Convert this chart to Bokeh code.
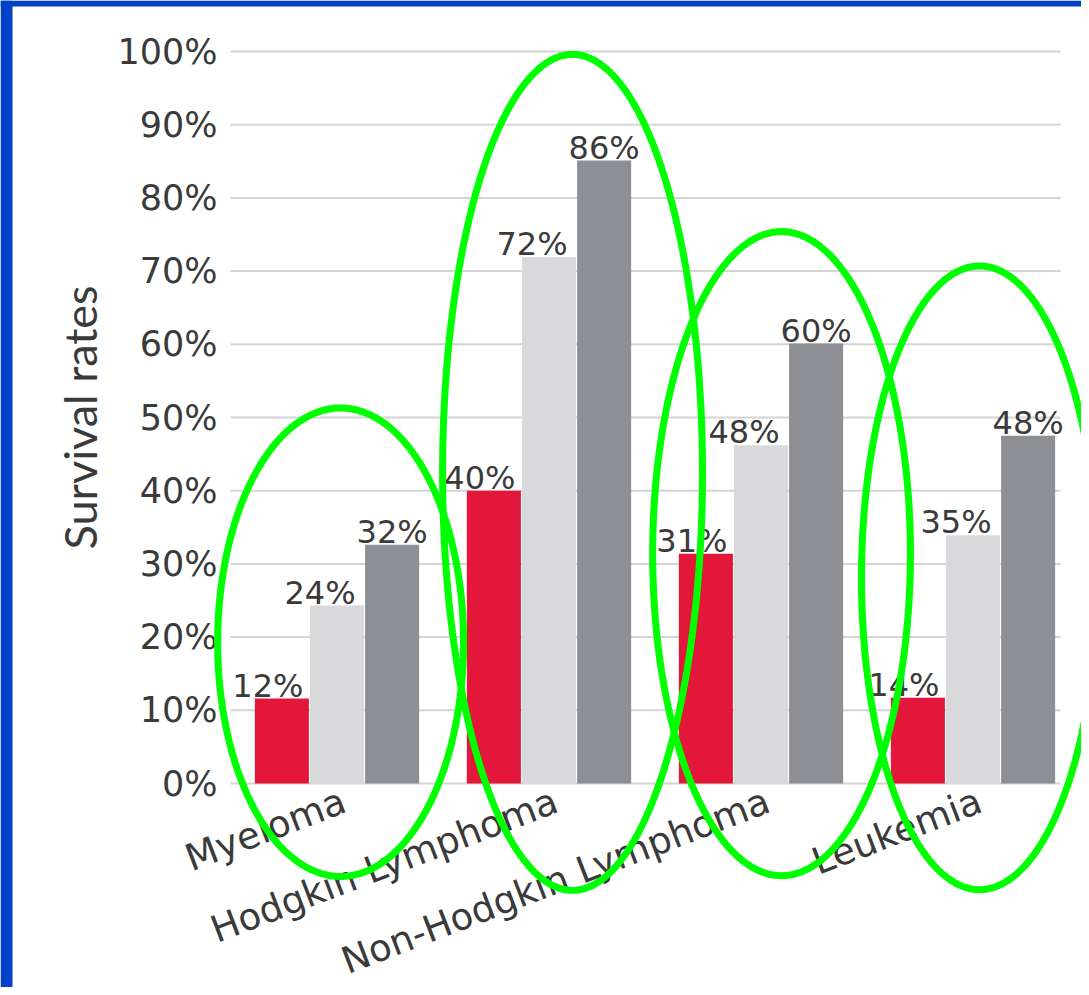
import numpy as np
from bokeh.plotting import figure
from bokeh.models import (Range1d, FixedTicker, PrintfTickFormatter, ColumnDataSource,
                          PolyAnnotation, BoxAnnotation)
from bokeh.transform import dodge
from bokeh.embed import file_html
from bokeh.resources import INLINE
from bokeh.core.properties import value

# ---------------- data ----------------
categories = ["Myeloma", "Hodgkin Lymphoma", "Non-Hodgkin Lymphoma", "Leukemia"]
red_values = [11.6, 40.0, 31.4, 11.7]
light_values = [24.3, 71.9, 46.2, 33.9]
dark_values = [32.6, 85.1, 60.1, 47.5]
red_labels = ["12%", "40%", "31%", "14%"]
light_labels = ["24%", "72%", "48%", "35%"]
dark_labels = ["32%", "86%", "60%", "48%"]
y_ticks = [0, 10, 20, 30, 40, 50, 60, 70, 80, 90, 100]

# highlight ellipses (centre x in category units, centre y in %, half sizes)
ellipse_cx = [0.017, 1.111, 2.097, 3.031]
ellipse_cy = [19.3, 42.5, 31.4, 28.1]
ellipse_ax = [0.580, 0.613, 0.608, 0.557]
ellipse_by = [32.0, 57.1, 44.0, 42.6]

FONT = "DejaVu Sans"
TEXT = "#3a3a3a"
RED = "#e2173a"
LIGHT = "#d9d9dc"
DARK = "#8e8f94"

W, H = 1081, 987
# canvas layout: category 0 centre at px 336.5, 212 px per category; 0% at px 783, 7.32 px per %
PX0, PXU = 336.5, 212.0
PY0, PYU = 783.0, 7.32


def px_x(px):
    return (px - PX0) / PXU


def px_y(py):
    return (PY0 - py) / PYU


AREA_X0, AREA_X1 = px_x(230), px_x(1060)

src = ColumnDataSource(dict(x=list(range(len(categories))),
                            r=red_values, l=light_values, d=dark_values,
                            rl=red_labels, ll=light_labels, dl=dark_labels))

p = figure(width=W, height=H,
           x_range=Range1d(px_x(0), px_x(W)), y_range=Range1d(px_y(H), px_y(0)),
           output_backend="svg", toolbar_location=None,
           min_border=0, min_border_left=0, min_border_right=0,
           min_border_top=0, min_border_bottom=0)
p.outline_line_color = None
p.background_fill_color = "white"
p.border_fill_color = "white"
p.xgrid.visible = False
p.ygrid.visible = False

# horizontal grid lines
p.segment(x0=[AREA_X0] * len(y_ticks), x1=[AREA_X1] * len(y_ticks),
          y0=y_ticks, y1=y_ticks, line_color="#d4d4d4", line_width=2)

BW = 0.255
OFF = 0.26
p.vbar(x=dodge("x", -OFF), top="r", width=BW, bottom=0, source=src,
       fill_color=RED, line_color=None)
p.vbar(x=dodge("x", 0), top="l", width=BW, bottom=0, source=src,
       fill_color=LIGHT, line_color=None)
p.vbar(x=dodge("x", OFF), top="d", width=BW, bottom=0, source=src,
       fill_color=DARK, line_color=None)

common = dict(source=src, text_align="center", text_baseline="alphabetic",
              text_font=value(FONT), text_font_size="32px", text_color=TEXT,
              y_offset=-13)
p.text(x=dodge("x", -OFF), y="r", text="rl", x_offset=-14, **common)
p.text(x=dodge("x", 0), y="l", text="ll", x_offset=-17, **common)
p.text(x=dodge("x", OFF), y="d", text="dl", x_offset=0, **common)

# y axis (drawn at the plot-area edge)
yax = p.yaxis[0]
yax.fixed_location = AREA_X0
yax.bounds = (0, 100)
yax.ticker = FixedTicker(ticks=y_ticks)
yax.formatter = PrintfTickFormatter(format="%d%%")
yax.axis_line_color = None
yax.major_tick_line_color = None
yax.minor_tick_line_color = None
yax.major_tick_out = 0
yax.minor_tick_out = 0
yax.major_label_standoff = 13
yax.major_label_text_font = FONT
yax.major_label_text_font_size = "35px"
yax.major_label_text_color = TEXT
yax.axis_label = "Survival rates"
yax.axis_label_text_font = "Lato"
yax.axis_label_text_font_size = "45px"
yax.axis_label_text_font_style = "normal"
yax.axis_label_text_color = TEXT
yax.axis_label_standoff = 7

# x axis (drawn at 0 %)
xax = p.xaxis[0]
xax.fixed_location = 0
xax.ticker = FixedTicker(ticks=[i + 0.033 for i in range(len(categories))])
xax.major_label_overrides = {i + 0.033: c for i, c in enumerate(categories)}
xax.major_label_orientation = float(np.radians(21))
xax.axis_line_color = None
xax.major_tick_line_color = None
xax.minor_tick_line_color = None
xax.major_tick_out = 0
xax.minor_tick_out = 0
xax.major_label_standoff = 16
xax.major_label_text_font = FONT
xax.major_label_text_font_size = "37px"
xax.major_label_text_color = TEXT

# green highlight ellipses
t = np.linspace(0, 2 * np.pi, 241)
for cx, cy, ax, by in zip(ellipse_cx, ellipse_cy, ellipse_ax, ellipse_by):
    p.add_layout(PolyAnnotation(xs=list(cx + ax * np.cos(t)), ys=list(cy + by * np.sin(t)),
                                fill_alpha=0, line_color="#00ff00", line_alpha=1,
                                line_width=7, level="overlay"))

# blue frame strips (left and top)
p.add_layout(BoxAnnotation(left=px_x(0), right=px_x(12), bottom=px_y(H), top=px_y(0),
                           fill_color="#0041c8", fill_alpha=1, line_color=None,
                           level="overlay"))
p.add_layout(BoxAnnotation(left=px_x(0), right=px_x(W), bottom=px_y(6), top=px_y(0),
                           fill_color="#0041c8", fill_alpha=1, line_color=None,
                           level="overlay"))

open("out.html", "w").write(file_html(p, INLINE))
